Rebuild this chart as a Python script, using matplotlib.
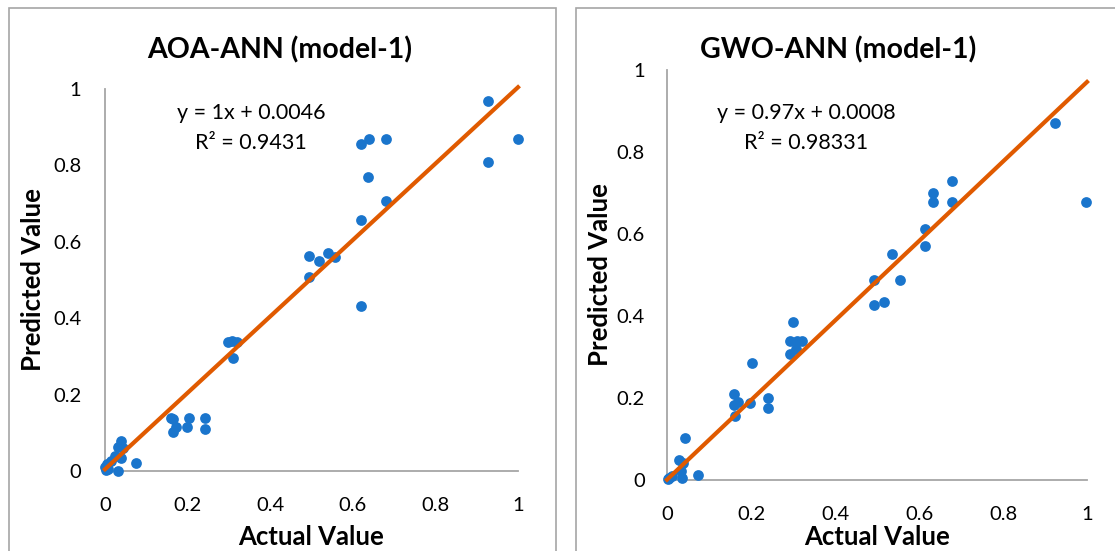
import matplotlib.pyplot as plt
from matplotlib.patches import Rectangle
import numpy as np

plt.rcParams['font.family'] = ['Lato', 'DejaVu Sans']

# AOA-ANN (model-1)
aoa_actual = [0.927, 0.619, 0.640, 0.681, 1.000, 0.928, 0.638, 0.681, 0.619,
              0.495, 0.539, 0.519, 0.558, 0.495, 0.619, 0.299, 0.307, 0.319,
              0.311, 0.164, 0.161, 0.172, 0.164, 0.204, 0.198, 0.242, 0.243,
              0.075, 0.039, 0.032, 0.044, 0.024, 0.039, 0.004, 0.000, 0.031,
              0.008, 0.015, 0.002]
aoa_pred = [0.969, 0.857, 0.868, 0.868, 0.868, 0.809, 0.770, 0.706, 0.656,
            0.562, 0.570, 0.551, 0.560, 0.509, 0.431, 0.339, 0.341, 0.337,
            0.295, 0.137, 0.140, 0.114, 0.102, 0.138, 0.115, 0.140, 0.110,
            0.020, 0.079, 0.064, 0.061, 0.039, 0.035, 0.018, 0.010, 0.000,
            0.005, 0.025, 0.003]
aoa_slope, aoa_icpt = 1.0, 0.0046
aoa_eq = "y = 1x + 0.0046\nR² = 0.9431"

# GWO-ANN (model-1)
gwo_actual = [0.924, 0.998, 0.678, 0.634, 0.634, 0.678, 0.615, 0.615, 0.536,
              0.555, 0.493, 0.493, 0.517, 0.301, 0.293, 0.309, 0.321, 0.293,
              0.308, 0.203, 0.160, 0.170, 0.160, 0.198, 0.163, 0.240, 0.241,
              0.043, 0.029, 0.039, 0.033, 0.036, 0.074, 0.005, 0.012, 0.002]
gwo_pred = [0.871, 0.678, 0.730, 0.700, 0.678, 0.678, 0.611, 0.570, 0.550,
            0.489, 0.489, 0.426, 0.434, 0.385, 0.339, 0.339, 0.339, 0.308,
            0.320, 0.285, 0.210, 0.190, 0.182, 0.189, 0.155, 0.201, 0.175,
            0.102, 0.050, 0.041, 0.023, 0.005, 0.013, 0.005, 0.010, 0.002]
gwo_slope, gwo_icpt = 0.97, 0.0008
gwo_eq = "y = 0.97x + 0.0008\nR² = 0.98331"

ticks = [0, 0.2, 0.4, 0.6, 0.8, 1]
tick_labels = ['0', '0.2', '0.4', '0.6', '0.8', '1']

W, H = 1115, 551
fig = plt.figure(figsize=(W / 100, H / 100), dpi=100)

BLUE = '#1A75CC'
ORANGE = '#E05A00'
GREY = '#A6A6A6'

# chart area borders
fig.patches.append(Rectangle((9 / W, -0.1), 547 / W, 1.1 - 8 / H, transform=fig.transFigure,
                             fill=False, edgecolor=GREY, linewidth=1.2))
fig.patches.append(Rectangle((576 / W, -0.1), 600 / W, 1.1 - 8 / H, transform=fig.transFigure,
                             fill=False, edgecolor=GREY, linewidth=1.2))


def panel(rect, actual, pred, slope, icpt, eq, eq_pos, title, title_pos, ylab_x, xlab_y, ypad):
    ax = fig.add_axes(rect)
    ax.scatter(actual, pred, s=60, color=BLUE, zorder=3, clip_on=False, linewidths=0)
    xs = np.array([0, 1])
    ax.plot(xs, slope * xs + icpt, color=ORANGE, linewidth=3, zorder=4, clip_on=False)
    ax.set_xlim(0, 1)
    ax.set_ylim(0, 1)
    ax.set_xticks(ticks)
    ax.set_xticklabels(tick_labels)
    ax.set_yticks(ticks)
    ax.set_yticklabels(tick_labels)
    ax.tick_params(length=0, labelsize=14.5)
    ax.tick_params(axis='x', pad=19)
    ax.tick_params(axis='y', pad=ypad)
    for s in ['top', 'right']:
        ax.spines[s].set_visible(False)
    for s in ['left', 'bottom']:
        ax.spines[s].set_color(GREY)
        ax.spines[s].set_linewidth(1.3)
    fig.text(eq_pos[0] / W, 1 - eq_pos[1] / H, eq, ha='center', va='center',
             fontsize=15.5, linespacing=1.6)
    fig.text(title_pos / W, 1 - 50 / H, title, ha='center', va='center',
             fontsize=20.5, fontweight='bold')
    fig.text(ylab_x / W, rect[1] + rect[3] / 2, 'Predicted Value', rotation=90,
             ha='center', va='center', fontsize=18.5, fontweight='bold')
    fig.text(rect[0] + rect[2] / 2, 1 - xlab_y / H, 'Actual Value',
             ha='center', va='center', fontsize=18.5, fontweight='bold')
    return ax


panel([105 / W, 1 - 471 / H, 413 / W, 382 / H], aoa_actual, aoa_pred, aoa_slope, aoa_icpt,
      aoa_eq, (251, 128), 'AOA-ANN (model-1)', 280, 33, 537, 17)
panel([667 / W, 1 - 480 / H, 420 / W, 410 / H], gwo_actual, gwo_pred, gwo_slope, gwo_icpt,
      gwo_eq, (806, 128), 'GWO-ANN (model-1)', 838, 600, 537, 16)

fig.savefig('out.png', dpi=100)
